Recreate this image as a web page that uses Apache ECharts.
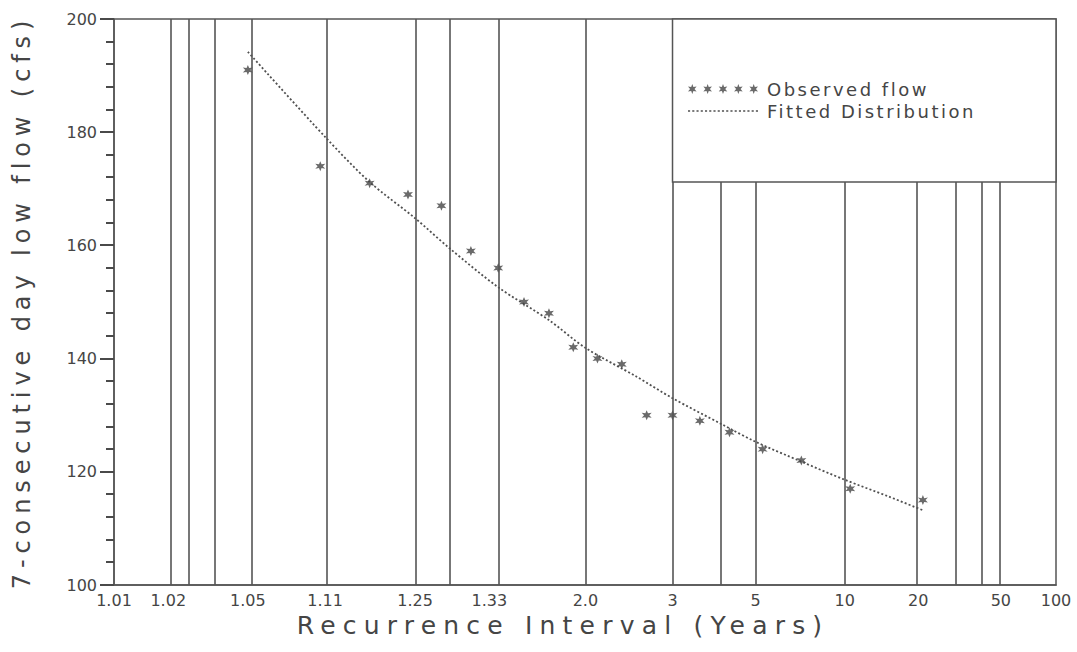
<!DOCTYPE html>
<html><head><meta charset="utf-8">
<script src="https://cdn.jsdelivr.net/npm/echarts@6/dist/echarts.min.js"></script>
<style>
html,body{margin:0;padding:0;background:#fff;}
#chart{width:1077px;height:652px;background:#fff;}
#chart text[style*="25px"]{letter-spacing:7.2px;}
#chart text[style*="24px"]{letter-spacing:5.9px;}
#chart text[style*="18px"]{letter-spacing:2.5px;}
</style></head><body><div id="chart"></div>
<script>
// Observed (plotted) recurrence intervals and 7-day low flows
const observedT = [1.05, 1.105, 1.167, 1.235, 1.313, 1.4, 1.5, 1.615, 1.75, 1.909, 2.1, 2.333, 2.625, 3, 3.5, 4.2, 5.25, 7, 10.5, 21];
const observedFlow = [191, 174, 171, 169, 167, 159, 156, 150, 148, 142, 140, 139, 130, 130, 129, 127, 124, 122, 117, 115];
// Fitted distribution curve
const fittedT = [1.05, 1.111, 1.167, 1.25, 1.333, 1.5, 1.75, 2, 2.5, 3, 4, 5, 7, 10, 15, 21];
const fittedFlow = [194.2, 179.0, 171.2, 164.8, 159.6, 152.6, 146.8, 141.9, 136.8, 133.0, 128.4, 125.3, 121.8, 118.6, 115.6, 113.2];
// Vertical grid lines (recurrence intervals)
const gridT = [1.0204, 1.0256, 1.0345, 1.0526, 1.1111, 1.25, 1.3333, 1.5, 2, 3, 4, 5, 10, 20, 30, 40, 50];
// X tick labels
const labelT = [1.01, 1.02, 1.05, 1.11, 1.25, 1.465, 2, 3, 5, 10, 20, 50, 100];
const labelText = ['1.01', '1.02', '1.05', '1.11', '1.25', '1.33', '2.0', '3', '5', '10', '20', '50', '100'];
// Y ticks
const yMajorTicks = [100, 120, 140, 160, 180, 200];
const yMinorTicks = [104, 108, 112, 116, 124, 128, 132, 136, 144, 148, 152, 156, 164, 168, 172, 176, 184, 188, 192, 196];
const tMin = 1.01, tMax = 100;
const yMin = 100, yMax = 200, yStep = 20;

function normInv(p){
  const a=[-3.969683028665376e+01,2.209460984245205e+02,-2.759285104469687e+02,1.383577518672690e+02,-3.066479806614716e+01,2.506628277459239e+00];
  const b=[-5.447609879822406e+01,1.615858368580409e+02,-1.556989798598866e+02,6.680131188771972e+01,-1.328068155288572e+01];
  const c=[-7.784894002430293e-03,-3.223964580411365e-01,-2.400758277161838e+00,-2.549732539343734e+00,4.374664141464968e+00,2.938163982698783e+00];
  const d=[7.784695709041462e-03,3.224671290700398e-01,2.445134137142996e+00,3.754408661907416e+00];
  const pl=0.02425, ph=1-pl; let q,r;
  if(p<pl){q=Math.sqrt(-2*Math.log(p));return (((((c[0]*q+c[1])*q+c[2])*q+c[3])*q+c[4])*q+c[5])/((((d[0]*q+d[1])*q+d[2])*q+d[3])*q+1);}
  if(p<=ph){q=p-0.5;r=q*q;return (((((a[0]*r+a[1])*r+a[2])*r+a[3])*r+a[4])*r+a[5])*q/(((((b[0]*r+b[1])*r+b[2])*r+b[3])*r+b[4])*r+1);}
  q=Math.sqrt(-2*Math.log(1-p));return -(((((c[0]*q+c[1])*q+c[2])*q+c[3])*q+c[4])*q+c[5])/((((d[0]*q+d[1])*q+d[2])*q+d[3])*q+1);
}
// probability-scale transform for recurrence interval
function toX(T){ return normInv(1 - 1/T); }

const STAR = 'path://M10,0L12.25,6.1L18.66,5L14.5,10L18.66,15L12.25,13.9L10,20L7.75,13.9L1.34,15L5.5,10L1.34,5L7.75,6.1Z';
function starsPath(n){
  let s = 'path://';
  for(let k=0;k<n;k++){
    const o = k*31;
    s += 'M'+(10+o)+',0L'+(12.25+o)+',6.1L'+(18.66+o)+',5L'+(14.5+o)+',10L'+(18.66+o)+',15L'+(12.25+o)+',13.9L'+(10+o)+',20L'+(7.75+o)+',13.9L'+(1.34+o)+',15L'+(5.5+o)+',10L'+(1.34+o)+',5L'+(7.75+o)+',6.1Z';
  }
  return s;
}
function dotsPath(n){
  let s = 'path://';
  for(let k=0;k<n;k++){
    const o = k*4;
    s += 'M'+o+',0L'+(o+2)+',0L'+(o+2)+',1.6L'+o+',1.6Z';
  }
  return s;
}

const INK = '#454545';
const LINE = '#555555';
const FONT = 'DejaVu Sans';

const labelX = labelT.map(toX);
function labelFor(v){
  let best = 0, bd = Infinity;
  labelX.forEach((x,i)=>{ const dd = Math.abs(x - v); if(dd < bd){bd = dd; best = i;} });
  return labelText[best];
}

const chart = echarts.init(document.getElementById('chart'), null, {renderer:'svg'});
chart.setOption({
  animation:false,
  textStyle:{fontFamily:FONT, color:INK},
  grid:{left:114, right:21, top:19, bottom:67, show:true, borderColor:LINE, borderWidth:1.5},
  xAxis:{
    type:'value', min:toX(tMin), max:toX(tMax),
    axisLine:{show:true, onZero:false, lineStyle:{color:LINE, width:1.5}},
    axisTick:{show:false},
    splitLine:{show:false},
    axisLabel:{customValues:labelX, formatter:labelFor, fontSize:16, color:INK, fontFamily:FONT, margin:7, showMinLabel:true, showMaxLabel:true},
    name:'Recurrence Interval (Years)', nameLocation:'middle', nameGap:22,
    nameTextStyle:{fontSize:25, color:INK, fontFamily:FONT, padding:[0,44,0,0]}
  },
  yAxis:{
    type:'value', min:yMin, max:yMax, interval:yStep,
    axisLine:{show:true, onZero:false, lineStyle:{color:LINE, width:1.5}},
    axisTick:{show:false},
    minorTick:{show:false},
    splitLine:{show:false},
    axisLabel:{fontSize:16, color:INK, fontFamily:FONT, margin:17},
    name:'7-consecutive day low flow (cfs)', nameLocation:'middle', nameGap:80, nameRotate:90,
    nameTextStyle:{fontSize:24, color:INK, fontFamily:FONT}
  },
  legend:{
    orient:'vertical', left:683, top:75, itemGap:4, itemWidth:70, itemHeight:10.5,
    textStyle:{fontSize:18, color:INK, fontFamily:FONT, padding:[0,0,0,4]},
    z:20,
    data:[{name:'Observed flow', icon:starsPath(5)}, {name:'Fitted Distribution', icon:dotsPath(17), itemStyle:{color:'#505050'}}]
  },
  series:[
    {
      name:'Fitted Distribution', type:'line', smooth:0.3, showSymbol:false, symbol:'none',
      data:fittedT.map((t,i)=>[toX(t), fittedFlow[i]]),
      lineStyle:{color:'#505050', width:1.8, type:[2,2.2]},
      itemStyle:{color:'#505050'},
      markLine:{
        silent:true, symbol:['none','none'], label:{show:false},
        lineStyle:{color:LINE, width:1.6, type:'solid'},
        emphasis:{disabled:true},
        data:gridT.map(t=>({xAxis:toX(t)}))
      },
      z:3
    },
    {
      name:'Observed flow', type:'scatter', symbol:STAR, symbolSize:10,
      itemStyle:{color:INK},
      data:observedT.map((t,i)=>[toX(t), observedFlow[i]]),
      z:4
    }
  ]
});

// legend backing box and y-axis ticks, positioned through the chart's own scales
const leftPx = chart.convertToPixel({xAxisIndex:0}, toX(tMin));
const rightPx = chart.convertToPixel({xAxisIndex:0}, toX(tMax));
const boxLeft = chart.convertToPixel({xAxisIndex:0}, toX(3));
const topPx = chart.convertToPixel({yAxisIndex:0}, yMax);
const boxBottom = chart.convertToPixel({yAxisIndex:0}, 171.2);
const gfx = [{type:'rect', z:10, shape:{x:boxLeft, y:topPx, width:rightPx-boxLeft, height:boxBottom-topPx}, style:{fill:'#fff', stroke:LINE, lineWidth:1.5}}];
yMajorTicks.forEach(v=>{
  const y = Math.round(chart.convertToPixel({yAxisIndex:0}, v));
  gfx.push({type:'rect', z:100, silent:true, shape:{x:leftPx-14, y:y-1, width:14, height:2}, style:{fill:'#4a4a4a'}});
});
yMinorTicks.forEach(v=>{
  const y = Math.round(chart.convertToPixel({yAxisIndex:0}, v));
  gfx.push({type:'rect', z:100, silent:true, shape:{x:leftPx-8, y:y-1, width:8, height:2}, style:{fill:'#4a4a4a'}});
});
chart.setOption({graphic:gfx});
</script></body></html>
